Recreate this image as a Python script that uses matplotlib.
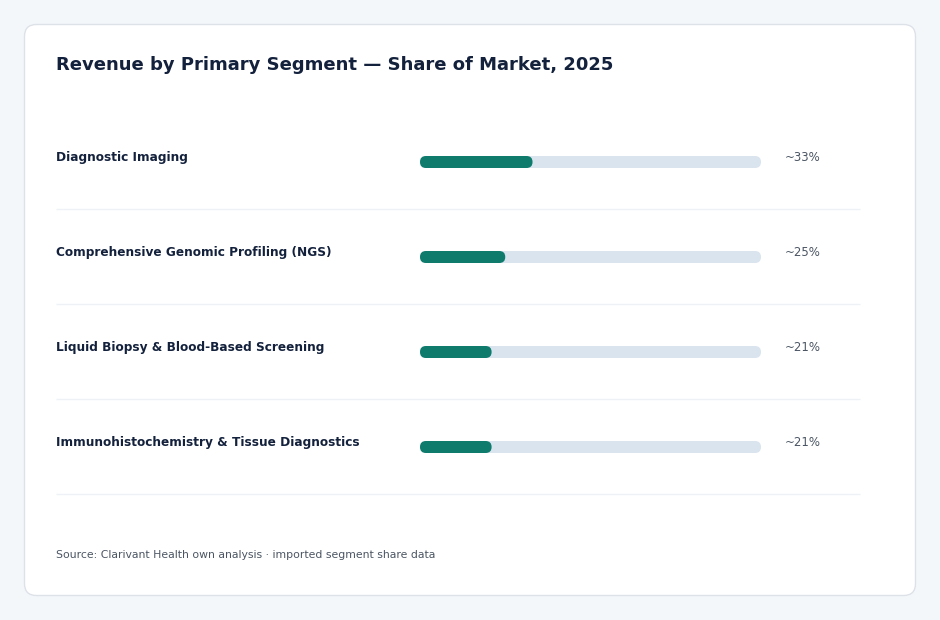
import numpy as np
import matplotlib
matplotlib.use("Agg")
import matplotlib.pyplot as plt
from matplotlib.patches import FancyBboxPatch
from matplotlib.transforms import blended_transform_factory

# data
segments = [
    "Diagnostic Imaging",
    "Comprehensive Genomic Profiling (NGS)",
    "Liquid Biopsy & Blood-Based Screening",
    "Immunohistochemistry & Tissue Diagnostics",
]
shares = [33, 25, 21, 21]
share_labels = ["~33%", "~25%", "~21%", "~21%"]

title = "Revenue by Primary Segment \u2014 Share of Market, 2025"
source = "Source: Clarivant Health own analysis \u00b7 imported segment share data"

# colours
bg = "#f4f7fa"
card_edge = "#dde2e8"
navy = "#13213c"
teal = "#0e7b6d"
track = "#dae4ee"
grey = "#4b5563"
sep = "#eef1f5"

W, H = 940, 620
fig = plt.figure(figsize=(W / 100, H / 100), dpi=100)
fig.patch.set_facecolor(bg)

def px(x, y):
    # pixel (from top-left) -> figure fraction
    return x / W, 1 - y / H

# card background
bgax = fig.add_axes([0, 0, 1, 1])
bgax.set_xlim(0, W)
bgax.set_ylim(H, 0)
bgax.axis("off")
card = FancyBboxPatch((24.5, 24.5), 891, 571, boxstyle="round,pad=0,rounding_size=12",
                      facecolor="white", edgecolor=card_edge, linewidth=1)
bgax.add_patch(card)

# bar axes: 341 px wide, rows 95 px apart
row_h = 95
n = len(segments)
x0, x1 = 420, 761
top = 162 - row_h / 2
ax = fig.add_axes([x0 / W, 1 - (top + n * row_h) / H, (x1 - x0) / W, n * row_h / H])
ax.set_xlim(0, 100)
ax.set_ylim(n - 0.5, -0.5)
ax.axis("off")

bar_h = 12 / row_h
ux = 100 / (x1 - x0)      # data units per px in x
uy = 1 / row_h            # data units per px in y
r = 6 * ux
aspect = uy / ux

for i, (v, lab, vl) in enumerate(zip(shares, segments, share_labels)):
    ax.add_patch(FancyBboxPatch((0, i - bar_h / 2), 100, bar_h,
                                boxstyle=f"round,pad=0,rounding_size={r}",
                                mutation_aspect=aspect, facecolor=track,
                                edgecolor="none"))
    ax.add_patch(FancyBboxPatch((0, i - bar_h / 2), v, bar_h,
                                boxstyle=f"round,pad=0,rounding_size={r}",
                                mutation_aspect=aspect, facecolor=teal,
                                edgecolor="none"))
    tr = blended_transform_factory(fig.transFigure, ax.transData)
    fig.text(56 / W, i - 4.5 * uy, lab, transform=tr, fontsize=8.7, fontweight="bold",
             color=navy, va="center", ha="left")
    fig.text(785 / W, i - 4.5 * uy, vl, transform=tr, fontsize=8.5,
             color=grey, va="center", ha="left")
    # separator line under each row
    ax.plot([(56 - x0) * ux, (860 - x0) * ux], [i + 0.5 - 1.0 * uy] * 2, color=sep,
            linewidth=1, clip_on=False, solid_capstyle="butt")

tx, ty = px(56, 65)
fig.text(tx, ty, title, fontsize=13, fontweight="bold", color=navy, va="center", ha="left")
sx, sy = px(56, 555)
fig.text(sx, sy, source, fontsize=7.85, color=grey, va="center", ha="left")

fig.savefig("out.png", dpi=100, facecolor=bg)
